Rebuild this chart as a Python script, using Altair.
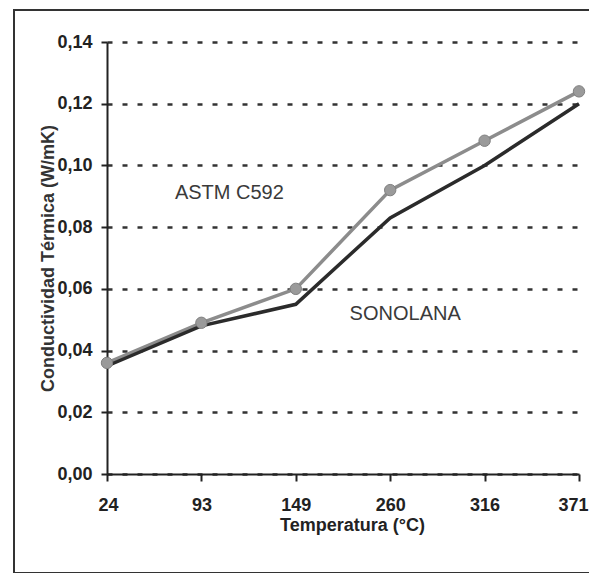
import altair as alt
import pandas as pd

temps = ["24", "93", "149", "260", "316", "371"]
astm = [0.036, 0.049, 0.060, 0.092, 0.108, 0.124]
sonolana = [0.035, 0.048, 0.055, 0.083, 0.100, 0.120]
y_ticks = [0.0, 0.02, 0.04, 0.06, 0.08, 0.10, 0.12, 0.14]

df = pd.DataFrame({"temp": temps, "astm": astm, "sono": sonolana})

FONT = "Liberation Sans"

x_enc = alt.X(
    "temp:O", sort=temps,
    scale=alt.Scale(type="point", padding=0),
    axis=alt.Axis(
        title="Temperatura (°C)", labelAngle=0, grid=False,
        tickSize=7, tickWidth=2, tickColor="#222",
        domainColor="#222", domainWidth=2,
        labelFont=FONT, labelFontSize=18, labelFontWeight="bold", labelColor="#222",
        labelPadding=15, labelBaseline="top",
        labelFlush=True, labelFlushOffset=9,
        titleFont=FONT, titleFontSize=18, titleFontWeight="bold", titleColor="#222",
        titleX=245, titleY=51, titleBaseline="middle", titleAlign="center",
    ),
)

def y_enc(field):
    return alt.Y(
        f"{field}:Q",
        scale=alt.Scale(domain=[0, 0.14], nice=False, zero=True),
        axis=alt.Axis(
            title="Conductividad Térmica (W/mK)", values=y_ticks,
            labelExpr="replace(format(datum.value, '.2f'), '.', ',')",
            grid=True, gridDash=[5, 10], gridColor="#333", gridWidth=2.5,
            tickSize=6, tickWidth=2, tickColor="#222",
            domainColor="#222", domainWidth=2,
            labelFont=FONT, labelFontSize=18, labelFontWeight="bold", labelColor="#222",
            labelPadding=9,
            titleFont=FONT, titleFontSize=18, titleFontWeight="bold", titleColor="#333",
            titleX=-59, titleY=216, titleAngle=-90, titleBaseline="middle", titleAlign="center",
        ),
    )

base = alt.Chart(df)

gray_line = base.mark_line(color="#8c8c8c", strokeWidth=3.5).encode(x=x_enc, y=y_enc("astm"))
black_line = base.mark_line(color="#2b2b2b", strokeWidth=3.5).encode(x=x_enc, y=y_enc("sono"))
gray_pts = base.mark_point(filled=True, shape="circle", size=130, color="#9a9a9a",
                           stroke="#808080", strokeWidth=1, opacity=1).encode(x=x_enc, y=y_enc("astm"))

ann1 = alt.Chart(pd.DataFrame({"temp": ["93"], "v": [0.0911], "t": ["ASTM C592"]})).mark_text(
    font=FONT, fontSize=20, color="#3a3a3a", dx=28, baseline="middle", align="center"
).encode(x=alt.X("temp:O", sort=temps), y=alt.Y("v:Q"), text="t:N")
ann2 = alt.Chart(pd.DataFrame({"temp": ["260"], "v": [0.0519], "t": ["SONOLANA"]})).mark_text(
    font=FONT, fontSize=20, color="#3a3a3a", dx=15, baseline="middle", align="center"
).encode(x=alt.X("temp:O", sort=temps), y=alt.Y("v:Q"), text="t:N")

frame = alt.Chart(alt.Data(values=[{"a": 1}])).mark_rect(
    filled=False, stroke="#333", strokeWidth=2
).encode(x=alt.value(-93), x2=alt.value(485), y=alt.value(-32), y2=alt.value(531))

chart = alt.layer(gray_line, black_line, gray_pts, ann1, ann2, frame).properties(
    width=472, height=432,
    padding={"left": 99, "top": 34, "right": 10, "bottom": 99},
    autosize=alt.AutoSizeParams(type="none"),
    background="white",
).configure_view(stroke=None)

chart.save("out.html", embed_options={"renderer": "svg", "actions": False})
